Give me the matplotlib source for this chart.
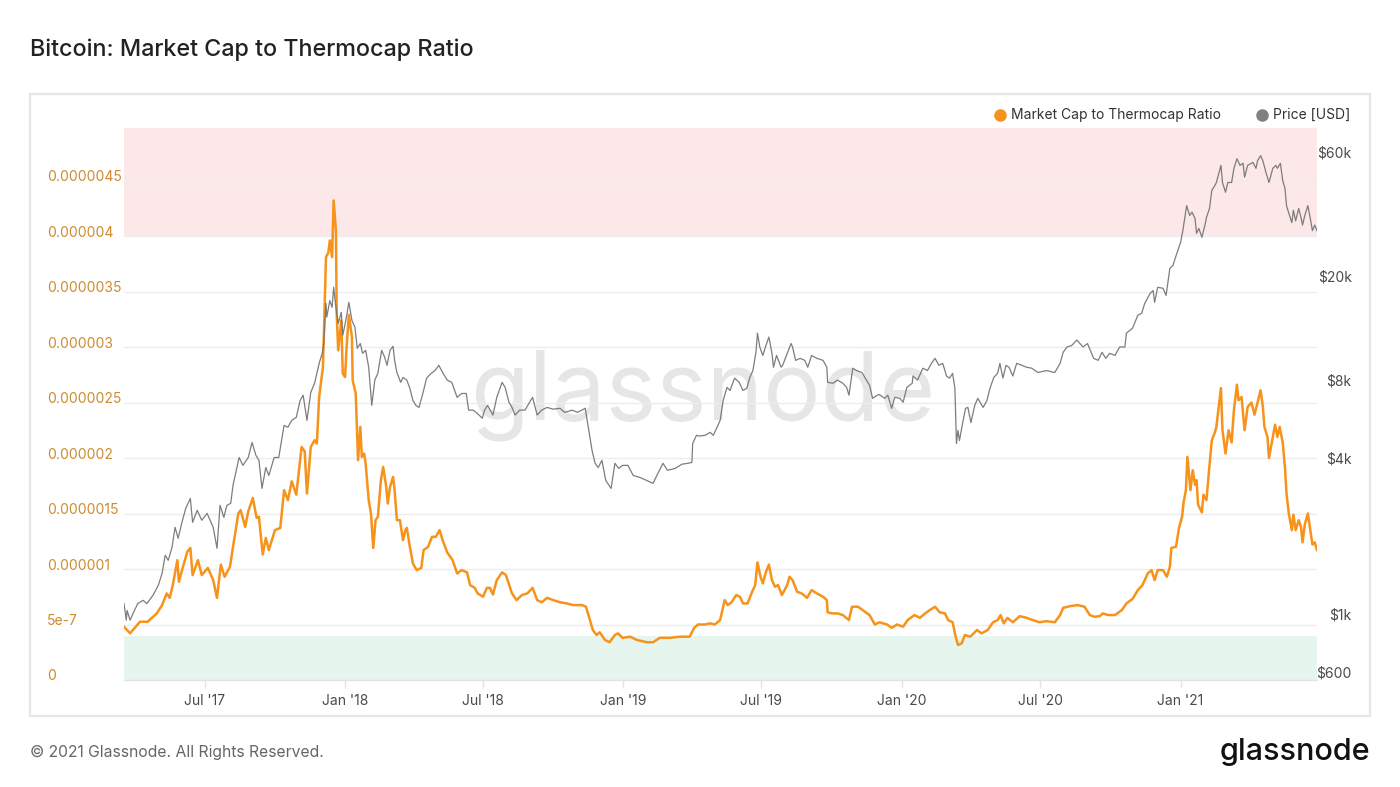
import matplotlib
matplotlib.use("Agg")
import matplotlib.pyplot as plt
import matplotlib.dates as mdates
import matplotlib.transforms as mtransforms
from matplotlib.lines import Line2D
from matplotlib.patches import Rectangle
import numpy as np
import pandas as pd

plt.rcParams['font.family'] = ['Inter', 'DejaVu Sans']

# ---------------- data ----------------
ratio_dates = [
    "2017-03-17","2017-03-25","2017-04-07","2017-04-17","2017-04-29","2017-05-06","2017-05-12","2017-05-16",
    "2017-05-20","2017-05-26","2017-05-28","2017-06-02","2017-06-08","2017-06-12","2017-06-15","2017-06-22",
    "2017-06-27","2017-07-05","2017-07-12","2017-07-17","2017-07-22","2017-07-27","2017-08-03","2017-08-07",
    "2017-08-14","2017-08-17","2017-08-23","2017-08-27","2017-09-02","2017-09-07","2017-09-10","2017-09-15",
    "2017-09-19","2017-09-23","2017-10-01","2017-10-08","2017-10-13","2017-10-18","2017-10-23","2017-10-29",
    "2017-11-05","2017-11-09","2017-11-12","2017-11-17","2017-11-22","2017-11-25","2017-11-28","2017-12-03",
    "2017-12-07","2017-12-10","2017-12-12","2017-12-15","2017-12-17","2017-12-20","2017-12-21","2017-12-23",
    "2017-12-27","2017-12-28","2017-12-29","2018-01-01","2018-01-03","2018-01-06","2018-01-10","2018-01-11",
    "2018-01-15","2018-01-18","2018-01-21","2018-01-23","2018-01-26","2018-01-28","2018-02-01","2018-02-04",
    "2018-02-07","2018-02-10","2018-02-13","2018-02-17","2018-02-20","2018-02-24","2018-02-26","2018-03-01",
    "2018-03-05","2018-03-07","2018-03-10","2018-03-14","2018-03-18","2018-03-21","2018-03-23","2018-03-27",
    "2018-03-31","2018-04-05","2018-04-11","2018-04-14","2018-04-20","2018-04-25","2018-04-30","2018-05-05",
    "2018-05-09","2018-05-15","2018-05-19","2018-05-22","2018-05-28","2018-06-03","2018-06-10","2018-06-14",
    "2018-06-20","2018-06-24","2018-07-01","2018-07-06","2018-07-10","2018-07-14","2018-07-19","2018-07-26",
    "2018-07-31","2018-08-08","2018-08-14","2018-08-21","2018-08-28","2018-09-04","2018-09-10","2018-09-16",
    "2018-09-23","2018-10-01","2018-10-10","2018-10-19","2018-10-27","2018-11-08","2018-11-13","2018-11-17",
    "2018-11-22","2018-11-27","2018-12-01","2018-12-08","2018-12-14","2018-12-21","2018-12-25","2018-12-31",
    "2019-01-10","2019-01-19","2019-02-01","2019-02-09","2019-02-18","2019-03-03","2019-03-16","2019-03-29",
    "2019-04-04","2019-04-09","2019-04-18","2019-04-25","2019-05-01","2019-05-08","2019-05-14","2019-05-18",
    "2019-05-23","2019-05-29","2019-06-03","2019-06-07","2019-06-13","2019-06-19","2019-06-23","2019-06-26",
    "2019-06-30","2019-07-03","2019-07-07","2019-07-11","2019-07-15","2019-07-19","2019-07-23","2019-07-28",
    "2019-08-04","2019-08-07","2019-08-11","2019-08-17","2019-08-23","2019-08-30","2019-09-05","2019-09-12",
    "2019-09-20","2019-09-25","2019-09-26","2019-10-02","2019-10-09","2019-10-16","2019-10-24","2019-10-28",
    "2019-11-05","2019-11-11","2019-11-20","2019-11-27","2019-12-03","2019-12-13","2019-12-19","2019-12-26",
    "2020-01-03","2020-01-09","2020-01-18","2020-01-25","2020-02-01","2020-02-07","2020-02-14","2020-02-20",
    "2020-02-27","2020-03-02","2020-03-08","2020-03-12","2020-03-15","2020-03-20","2020-03-24","2020-03-31",
    "2020-04-09","2020-04-15","2020-04-23","2020-04-30","2020-05-06","2020-05-10","2020-05-14","2020-05-19",
    "2020-05-26","2020-06-04","2020-06-13","2020-06-21","2020-06-30","2020-07-09","2020-07-20","2020-07-27",
    "2020-07-31","2020-08-09","2020-08-19","2020-08-28","2020-09-04","2020-09-10","2020-09-17","2020-09-21",
    "2020-09-28","2020-10-07","2020-10-16","2020-10-22","2020-10-30","2020-11-06","2020-11-12","2020-11-19",
    "2020-11-24","2020-11-28","2020-12-02","2020-12-09","2020-12-14","2020-12-18","2020-12-20","2020-12-26",
    "2020-12-30","2021-01-03","2021-01-05","2021-01-08","2021-01-10","2021-01-14","2021-01-17","2021-01-20",
    "2021-01-22","2021-01-24","2021-01-29","2021-01-31","2021-02-04","2021-02-07","2021-02-11","2021-02-15",
    "2021-02-17","2021-02-23","2021-02-25","2021-03-01","2021-03-05","2021-03-09","2021-03-12","2021-03-16",
    "2021-03-18","2021-03-22","2021-03-26","2021-03-30","2021-04-04","2021-04-08","2021-04-12","2021-04-16",
    "2021-04-19","2021-04-21","2021-04-25","2021-04-27","2021-05-02","2021-05-05","2021-05-08","2021-05-11",
    "2021-05-15","2021-05-18","2021-05-20","2021-05-23","2021-05-27","2021-05-29","2021-06-01","2021-06-05",
    "2021-06-08","2021-06-10","2021-06-13","2021-06-17","2021-06-21","2021-06-23","2021-06-26","2021-06-29",
]
# Market cap to thermocap ratio, in millionths (x 1e-6)
ratio_millionths = [
    0.48,0.42,0.525,0.525,0.60,0.675,0.78,0.74,
    0.855,1.08,0.885,1.01,1.155,1.19,0.945,1.08,
    0.945,1.01,0.90,0.74,1.04,0.93,1.02,1.20,
    1.50,1.53,1.38,1.52,1.64,1.46,1.47,1.13,
    1.28,1.17,1.35,1.37,1.71,1.62,1.79,1.67,
    2.10,2.06,1.68,2.10,2.16,2.13,2.55,2.82,
    3.81,3.85,3.96,3.81,4.32,4.05,3.30,2.97,
    3.24,3.00,2.76,2.73,3.00,3.29,3.09,2.70,
    2.58,1.98,2.28,2.01,2.04,1.95,1.62,1.50,
    1.19,1.44,1.47,1.80,1.92,1.74,1.59,1.74,
    1.83,1.71,1.44,1.44,1.26,1.35,1.37,1.20,
    1.05,0.99,1.01,1.17,1.20,1.29,1.29,1.35,
    1.26,1.15,1.11,1.08,0.96,0.99,0.97,0.855,
    0.83,0.78,0.75,0.83,0.83,0.77,0.90,0.97,
    0.945,0.78,0.72,0.765,0.78,0.83,0.72,0.70,
    0.74,0.72,0.70,0.69,0.675,0.675,0.66,0.57,
    0.45,0.405,0.43,0.36,0.34,0.405,0.42,0.38,
    0.39,0.36,0.34,0.34,0.38,0.38,0.39,0.39,
    0.47,0.50,0.50,0.51,0.50,0.54,0.72,0.675,
    0.70,0.765,0.75,0.69,0.69,0.795,0.855,1.06,
    0.93,0.87,0.97,1.04,0.90,0.84,0.855,0.765,
    0.855,0.93,0.90,0.795,0.78,0.74,0.81,0.78,
    0.75,0.72,0.61,0.60,0.60,0.585,0.54,0.66,
    0.66,0.63,0.585,0.50,0.52,0.50,0.47,0.50,
    0.48,0.54,0.585,0.56,0.60,0.63,0.66,0.61,
    0.60,0.54,0.52,0.39,0.315,0.33,0.405,0.39,
    0.45,0.42,0.45,0.52,0.54,0.585,0.51,0.56,
    0.52,0.575,0.56,0.54,0.52,0.53,0.52,0.585,
    0.65,0.665,0.675,0.66,0.585,0.57,0.575,0.60,
    0.585,0.585,0.63,0.69,0.73,0.81,0.855,0.96,
    0.99,0.90,0.99,0.99,0.93,1.02,1.19,1.20,
    1.37,1.47,1.60,1.71,2.01,1.71,1.89,1.76,
    1.80,1.58,1.51,1.67,1.62,1.86,2.16,2.23,
    2.28,2.63,2.25,2.04,2.25,2.14,2.43,2.66,
    2.52,2.55,2.25,2.46,2.50,2.39,2.50,2.61,
    2.46,2.28,2.19,2.00,2.19,2.30,2.19,2.28,
    2.14,1.91,1.68,1.50,1.35,1.49,1.35,1.44,
    1.38,1.24,1.40,1.50,1.31,1.22,1.24,1.17,
]

price_dates = [
    "2017-03-17","2017-03-20","2017-03-21","2017-03-25","2017-03-29","2017-04-04","2017-04-11","2017-04-16",
    "2017-04-24","2017-05-01","2017-05-06","2017-05-10","2017-05-14","2017-05-19","2017-05-23","2017-05-27",
    "2017-06-01","2017-06-06","2017-06-12","2017-06-15","2017-06-21","2017-06-27","2017-07-04","2017-07-12",
    "2017-07-17","2017-07-21","2017-07-26","2017-07-30","2017-08-04","2017-08-07","2017-08-15","2017-08-20",
    "2017-08-27","2017-09-01","2017-09-06","2017-09-10","2017-09-14","2017-09-19","2017-09-23","2017-09-30",
    "2017-10-06","2017-10-13","2017-10-18","2017-10-23","2017-10-29","2017-11-03","2017-11-07","2017-11-12",
    "2017-11-17","2017-11-22","2017-11-28","2017-12-02","2017-12-04","2017-12-07","2017-12-08","2017-12-12",
    "2017-12-15","2017-12-17","2017-12-20","2017-12-23","2017-12-27","2017-12-29","2018-01-02","2018-01-06",
    "2018-01-10","2018-01-14","2018-01-17","2018-01-21","2018-01-24","2018-01-28","2018-02-01","2018-02-05",
    "2018-02-09","2018-02-13","2018-02-18","2018-02-22","2018-02-25","2018-03-01","2018-03-05","2018-03-07",
    "2018-03-10","2018-03-15","2018-03-18","2018-03-23","2018-03-27","2018-03-31","2018-04-04","2018-04-08",
    "2018-04-13","2018-04-18","2018-04-24","2018-04-29","2018-05-04","2018-05-09","2018-05-15","2018-05-21",
    "2018-05-28","2018-06-03","2018-06-09","2018-06-12","2018-06-18","2018-06-23","2018-06-30","2018-07-03",
    "2018-07-07","2018-07-14","2018-07-19","2018-07-26","2018-07-30","2018-08-04","2018-08-08","2018-08-12",
    "2018-08-18","2018-08-25","2018-08-31","2018-09-04","2018-09-10","2018-09-16","2018-09-23","2018-10-01",
    "2018-10-10","2018-10-16","2018-10-26","2018-11-02","2018-11-12","2018-11-16","2018-11-21","2018-11-25",
    "2018-11-29","2018-12-04","2018-12-09","2018-12-16","2018-12-21","2018-12-26","2018-12-31","2019-01-07",
    "2019-01-14","2019-01-23","2019-02-01","2019-02-09","2019-02-14","2019-02-22","2019-02-28","2019-03-10",
    "2019-03-19","2019-03-27","2019-04-01","2019-04-02","2019-04-07","2019-04-11","2019-04-18","2019-04-25",
    "2019-04-29","2019-05-04","2019-05-08","2019-05-12","2019-05-17","2019-05-21","2019-05-27","2019-06-02",
    "2019-06-07","2019-06-12","2019-06-16","2019-06-20","2019-06-24","2019-06-26","2019-06-29","2019-07-03",
    "2019-07-07","2019-07-11","2019-07-15","2019-07-17","2019-07-21","2019-07-27","2019-07-29","2019-08-04",
    "2019-08-09","2019-08-11","2019-08-15","2019-08-21","2019-08-27","2019-08-31","2019-09-05","2019-09-12",
    "2019-09-20","2019-09-25","2019-09-26","2019-10-03","2019-10-09","2019-10-16","2019-10-21","2019-10-24",
    "2019-10-29","2019-11-03","2019-11-10","2019-11-16","2019-11-20","2019-11-24","2019-11-30","2019-12-03",
    "2019-12-10","2019-12-14","2019-12-19","2019-12-23","2019-12-30","2020-01-03","2020-01-08","2020-01-15",
    "2020-01-16","2020-01-22","2020-01-29","2020-02-04","2020-02-10","2020-02-14","2020-02-19","2020-02-24",
    "2020-02-29","2020-03-04","2020-03-08","2020-03-11","2020-03-13","2020-03-15","2020-03-17","2020-03-21",
    "2020-03-25","2020-03-28","2020-04-01","2020-04-06","2020-04-10","2020-04-17","2020-04-22","2020-04-26",
    "2020-05-01","2020-05-06","2020-05-09","2020-05-13","2020-05-17","2020-05-21","2020-05-26","2020-05-31",
    "2020-06-07","2020-06-13","2020-06-20","2020-06-28","2020-07-09","2020-07-20","2020-07-27","2020-07-31",
    "2020-08-05","2020-08-11","2020-08-18","2020-08-26","2020-09-01","2020-09-09","2020-09-15","2020-09-20",
    "2020-09-25","2020-09-30","2020-10-07","2020-10-13","2020-10-20","2020-10-22","2020-10-30","2020-11-06",
    "2020-11-11","2020-11-15","2020-11-22","2020-11-26","2020-11-28","2020-12-02","2020-12-09","2020-12-13",
    "2020-12-18","2020-12-22","2020-12-27","2021-01-01","2021-01-04","2021-01-09","2021-01-13","2021-01-16",
    "2021-01-20","2021-01-22","2021-01-25","2021-01-29","2021-02-02","2021-02-04","2021-02-08","2021-02-11",
    "2021-02-15","2021-02-17","2021-02-23","2021-02-25","2021-03-01","2021-03-04","2021-03-09","2021-03-12",
    "2021-03-16","2021-03-20","2021-03-24","2021-03-26","2021-03-30","2021-04-06","2021-04-10","2021-04-12",
    "2021-04-16","2021-04-19","2021-04-23","2021-04-27","2021-05-02","2021-05-06","2021-05-08","2021-05-12",
    "2021-05-15","2021-05-18","2021-05-20","2021-05-23","2021-05-27","2021-05-29","2021-06-01","2021-06-05",
    "2021-06-08","2021-06-10","2021-06-13","2021-06-17","2021-06-20","2021-06-23","2021-06-26","2021-06-29",
]
# BTC price in USD
price_usd = [
    1100,950,1036,950,1009,1100,1132,1100,
    1183,1293,1438,1686,1613,1810,2161,1960,
    2258,2557,2790,2258,2512,2300,2446,2161,
    1794,2626,2360,2626,2672,3134,4010,3740,
    4010,4580,4090,3910,3050,3670,3420,4010,
    4010,5330,5240,5570,5720,6640,6960,5570,
    7140,7740,9230,10090,11000,15700,13900,16100,
    15160,18100,15160,13150,14500,11850,13500,15850,
    13500,12700,10550,11000,10090,10360,8920,6360,
    7960,8450,10360,9740,9070,10360,10740,9480,
    8510,7800,8150,7960,7400,6640,6360,6250,
    7070,8100,8450,8660,9070,8510,7960,7800,
    6830,7070,7070,6100,6100,5940,5680,6100,
    6360,5840,6830,7800,7460,6540,6250,5840,
    6100,6100,6540,6830,5840,6100,6250,6150,
    6200,5980,6100,5980,6200,5240,4270,3810,
    3670,3910,3270,3050,3810,3640,3740,3740,
    3420,3360,3270,3190,3420,3810,3580,3640,
    3780,3810,3840,4540,4880,4850,4880,5010,
    4880,5240,5570,6640,7460,7260,8100,7800,
    7260,7400,8150,8660,10180,12070,10670,9900,
    10800,11650,10090,8920,9900,8920,9070,10090,
    11000,10670,9480,9650,9480,8920,9900,9650,
    9480,8920,7800,7740,7960,7740,7460,6960,
    8840,8660,8510,7960,7600,6770,6960,7000,
    6770,6960,6200,6830,6770,6540,7460,7740,
    8250,7960,8840,8660,9310,9650,9070,9230,
    8250,8100,8450,7400,4540,5100,4660,5420,
    6200,6250,5460,6360,6770,6250,6640,7400,
    8150,8450,9230,8100,9070,8920,8250,9230,
    9070,8920,8840,8510,8660,8510,9230,10180,
    10670,10800,11350,10670,11000,9650,9480,10180,
    9650,10090,9900,10670,10670,12070,12600,14140,
    14390,15700,17130,17600,15850,18100,17950,16850,
    21400,21950,24400,26900,29900,37300,34200,35200,
    33300,29200,30500,28200,31400,33600,36400,42700,
    44600,45800,53300,45800,42000,45800,45800,51900,
    56500,53300,54300,48000,53300,54700,51900,55500,
    58100,55500,50100,45800,51900,53300,51900,54300,
    46700,43500,37300,34900,32100,35800,32600,36400,
    33600,31400,34200,37300,33600,29900,31400,29900,
]

ratio_ticks = [0, 5e-7, 1e-6, 1.5e-6, 2e-6, 2.5e-6, 3e-6, 3.5e-6, 4e-6, 4.5e-6]
ratio_tick_labels = ["0", "5e-7", "0.000001", "0.0000015", "0.000002", "0.0000025",
                     "0.000003", "0.0000035", "0.000004", "0.0000045"]
price_ticks = [600, 1000, 4000, 8000, 20000, 60000]
price_tick_labels = ["$600", "$1k", "$4k", "$8k", "$20k", "$60k"]
overvalued_band = (4e-6, 6e-6)
undervalued_band = (0, 4e-7)

title = "Bitcoin: Market Cap to Thermocap Ratio"
series_names = ["Market Cap to Thermocap Ratio", "Price [USD]"]

# ---------------- styling ----------------
ORANGE = "#f7931a"
GRAY_LINE = "#6f6f6f"
LEFT_LABEL = "#cf8a2e"
RIGHT_LABEL = "#4a4a4a"
GRID = "#ededed"

fig = plt.figure(figsize=(14, 7.87), dpi=100)
fig.patch.set_facecolor("white")

# outer panel
fig.add_artist(Rectangle((30/1400, 1-716/787), 1340/1400, 622/787, transform=fig.transFigure,
                         fill=False, edgecolor="#e7e7e7", linewidth=1.6, zorder=0))

ax = fig.add_axes([124/1400, 1-680/787, 1193/1400, 552/787])
ax2 = ax.twinx()

rd = pd.to_datetime(ratio_dates)
pdt = pd.to_datetime(price_dates)
ratio = np.array(ratio_millionths) * 1e-6

ax.axhspan(*overvalued_band, color="#fce8e8", zorder=0.2, lw=0)
ax.axhspan(*undervalued_band, color="#e6f6ee", zorder=0.2, lw=0)

ax.text(0.485, 0.515, "glassnode", transform=ax.transAxes, ha="center", va="center",
        fontsize=69, color="#e6e6e6", zorder=0.4)

ax.plot(rd, ratio, color=ORANGE, lw=1.8, zorder=3, solid_joinstyle="round")
ax2.plot(pdt, price_usd, color=GRAY_LINE, lw=0.9, alpha=0.9, zorder=3)

ax.set_ylim(0, 4.973e-6)
ax.set_yticks(ratio_ticks)
ax.set_yticklabels(ratio_tick_labels)
ax.yaxis.grid(True, color=GRID, lw=1.0, zorder=0.3)
ax.set_axisbelow(True)
ax.tick_params(axis="y", length=0, pad=55.5, labelsize=10, labelcolor=LEFT_LABEL)
offset = mtransforms.ScaledTranslation(0, 5/100, fig.dpi_scale_trans)
for lbl in ax.get_yticklabels():
    lbl.set_horizontalalignment("left")
    lbl.set_transform(lbl.get_transform() + offset)

ax2.set_yscale("log")
ax2.set_ylim(559, 74200)
ax2.set_yticks(price_ticks)
ax2.set_yticklabels(price_tick_labels)
ax2.yaxis.set_minor_locator(matplotlib.ticker.NullLocator())
ax2.tick_params(axis="y", length=0, pad=25, labelsize=10, labelcolor=RIGHT_LABEL)
for lbl in ax2.get_yticklabels():
    lbl.set_horizontalalignment("right")

ax.set_xlim(pd.Timestamp("2017-03-17"), pd.Timestamp("2021-06-29"))
ax.xaxis.set_major_locator(mdates.MonthLocator(bymonth=[1, 7]))
ax.xaxis.set_major_formatter(mdates.DateFormatter("%b '%y"))
ax.tick_params(axis="x", length=6, width=1, color="#e3e3e3", pad=4, labelsize=10, labelcolor=RIGHT_LABEL)

for a in (ax, ax2):
    for s in ("top", "left", "right"):
        a.spines[s].set_visible(False)
ax2.spines["bottom"].set_visible(False)
ax.spines["bottom"].set_color("#e3e3e3")
ax.spines["bottom"].set_linewidth(1)

# title and footer
fig.text(30/1400, 1-50/787, title, ha="left", va="center", fontsize=16.8, color="#222222", fontweight="medium")
fig.text(30/1400, 1-752/787, "© 2021 Glassnode. All Rights Reserved.", ha="left", va="center",
         fontsize=11.3, color="#666666")
fig.text(1370/1400, 1-752/787, "glassnode", ha="right", va="center", fontsize=22, color="#111111",
         fontweight="medium")

# legend
ly = 1-115/787
fig.add_artist(Line2D([1000/1400], [ly], marker="o", markersize=8, color=ORANGE, transform=fig.transFigure, lw=0))
fig.text(1011/1400, ly, series_names[0], ha="left", va="center", fontsize=10, color="#333333")
fig.add_artist(Line2D([1262/1400], [ly], marker="o", markersize=8, color="#808080", transform=fig.transFigure, lw=0))
fig.text(1273/1400, ly, series_names[1], ha="left", va="center", fontsize=10, color="#333333")

fig.savefig("out.png", dpi=100, facecolor="white")
